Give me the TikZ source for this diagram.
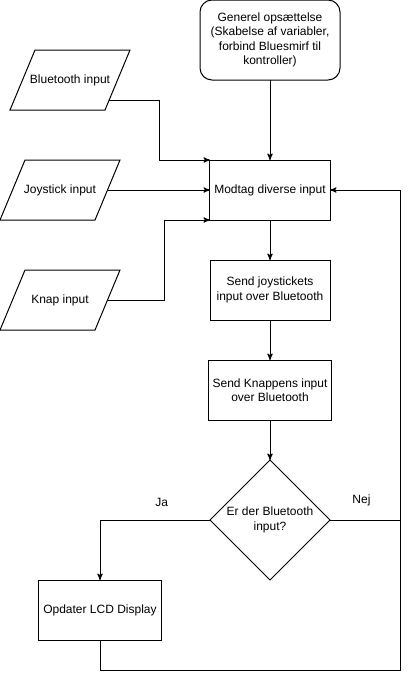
\documentclass[tikz,border=0pt]{standalone}
\usepackage{fontspec}
\setmainfont{Liberation Sans}
\usetikzlibrary{positioning,arrows,calc,shapes.geometric}

\tikzset{
  every node/.style={font=\fontsize{9}{10.8}\selectfont, outer sep=0pt},
  proc/.style={draw, minimum width=90pt, minimum height=45pt, align=center},
  start/.style={draw, rounded corners=9pt, minimum width=105pt, minimum height=60pt, align=center},
  io/.style={minimum width=71.25pt, minimum height=45pt},
  check/.style={draw, diamond, aspect=1, inner sep=0pt, minimum width=90pt,
    minimum height=90pt, align=center}
}

\begin{document}
\begin{tikzpicture}[x=0.75pt, y=-0.75pt, line width=0.75pt, >=stealth']

  \useasboundingbox (0,0) rectangle (409,679);

  \node[start] (setup) at (270,40) {Generel opsættelse\\(Skabelse af variabler,\\forbind Bluesmirf til\\kontroller)};
  \node[proc] (modtag) [below=60pt of setup] {Modtag diverse input};
  \node[proc] (sendjoy) [below=30pt of modtag] {Send joystickets\\input over Bluetooth};
  \node[proc] (sendknap) [below=30pt of sendjoy] {Send Knappens input\\over Bluetooth};
  \node[check] (btcheck) [below=30pt of sendknap] {Er der Bluetooth\\input?};
  \node[proc] (lcd) at (100,610) {Opdater LCD Display};

  \node[io] (btin) at (70,80) {Bluetooth input};
  \node[io] (joyin) at (60,190) {Joystick input};
  \node[io] (knapin) at (60,300) {Knap input};

  % parallelogram outlines of the input nodes
  \foreach \n in {btin,joyin,knapin}
    \draw ([xshift=9.375pt]\n.north west) -- ([xshift=9.375pt]\n.north east)
      -- ([xshift=-9.375pt]\n.south east) -- ([xshift=-9.375pt]\n.south west) -- cycle;

  \coordinate (loopbot) at (400,670);

  \path[->] (setup) edge (modtag);
  \path[->] (modtag) edge (sendjoy);
  \path[->] (sendjoy) edge (sendknap);
  \path[->] (sendknap) edge (btcheck);
  \path[->] (joyin) edge (modtag);

  \draw[->] ($(btin.east)+(-8.33,20)$) -| ([xshift=-37.5pt]modtag.north west) -- (modtag.north west);
  \draw[->] (knapin.east) -| ([xshift=-33.75pt]modtag.south west) -- (modtag.south west);

  \draw[->] (btcheck.west) -| node[pos=0.22, above=7pt] {Ja} (lcd.north);
  \draw (btcheck.east) -- node[pos=0.45, above=7pt] {Nej} (btcheck.east -| loopbot);
  \draw[->] (lcd.south) |- (loopbot) |- (modtag.east);

\end{tikzpicture}
\end{document}
